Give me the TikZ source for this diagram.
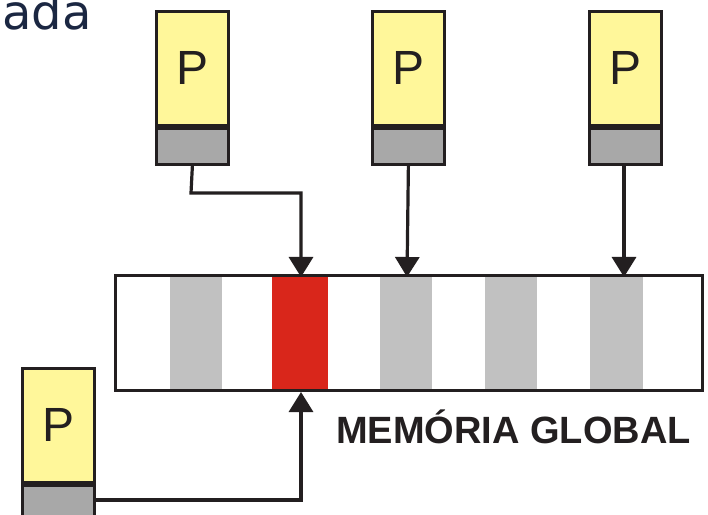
\documentclass[tikz,border=0pt]{standalone}
\usepackage{fontspec}
\setmainfont{Liberation Sans}
\newfontfamily\captionfont{DejaVu Sans}
\usetikzlibrary{arrows.meta}
\definecolor{pyellow}{HTML}{FFF79A}
\definecolor{pgray}{HTML}{A8A8A8}
\definecolor{stripegray}{HTML}{C1C1C1}
\definecolor{hotred}{HTML}{D9261B}
\definecolor{inkline}{HTML}{231F20}
\definecolor{navy}{HTML}{1B2742}
\tikzset{
  x=1pt, y=1pt,
  procbox/.style={draw=inkline, line width=2.8pt, fill=pyellow, minimum width=72pt,
    minimum height=114pt, inner sep=0pt, anchor=north west,
    font=\fontsize{48}{48}\selectfont, text=inkline},
  procfoot/.style={draw=inkline, line width=2.8pt, fill=pgray, minimum width=72pt,
    minimum height=36pt, inner sep=0pt, anchor=north},
  stripe/.style={minimum height=115pt, inner sep=0pt, anchor=south west, draw=none},
  link/.style={draw=inkline, line width=3.2pt,
    -{Triangle[length=20pt,width=24pt]}},
}
\begin{document}
\begin{tikzpicture}
\useasboundingbox (0,0) rectangle (708,514);
\fill[white] (0,0) rectangle (708,514);

% caption fragment, top left
\node[anchor=base west, inner sep=0pt, text=navy,
  font=\captionfont\fontsize{48}{48}\selectfont] (cap) at (2,484) {ada};

% global memory bar with its cells
\node[stripe, minimum width=52pt, fill=stripegray] (s1) at (170,122) {};
\node[stripe, minimum width=56pt, fill=hotred]     (r)  at (272,122) {};
\node[stripe, minimum width=52pt, fill=stripegray] (s2) at (380,122) {};
\node[stripe, minimum width=52pt, fill=stripegray] (s3) at (485,122) {};
\node[stripe, minimum width=53pt, fill=stripegray] (s4) at (590,122) {};
\node[draw=inkline, line width=3pt, minimum width=587pt, minimum height=115pt,
  inner sep=0pt, anchor=south west] (mem) at (114,122) {};
\node[anchor=base west, inner sep=0pt, font=\bfseries\fontsize{38}{38}\selectfont,
  text=inkline] (label) at (336,71) {MEMÓRIA GLOBAL};

% processors
\node[procbox] (p1) at (155,504) {P};
\node[procfoot] (p1f) at (p1.south) {};
\node[procbox] (p2) at (371,504) {P};
\node[procfoot] (p2f) at (p2.south) {};
\node[procbox] (p3) at (588,504) {P};
\node[procfoot] (p3f) at (p3.south) {};
\node[procbox] (p4) at (21,147) {P};
\node[procfoot] (p4f) at (p4.south) {};

% access points on the bar
\coordinate (t1) at (301,237);
\coordinate (t2) at (407,237);
\coordinate (t3) at (624,237);
\coordinate (b1) at (301,122);
\coordinate (bend1) at (191,321);
\coordinate (bend4) at (301,14);

% connectors
\draw[link] (p1f.south) -- (bend1) -| (t1);
\draw[link] (p2f.south) -- (t2);
\draw[link] (p3f.south -| t3) -- (t3);
\draw[link] (p4f.east |- bend4) -- (bend4) -- (b1);
\end{tikzpicture}
\end{document}
